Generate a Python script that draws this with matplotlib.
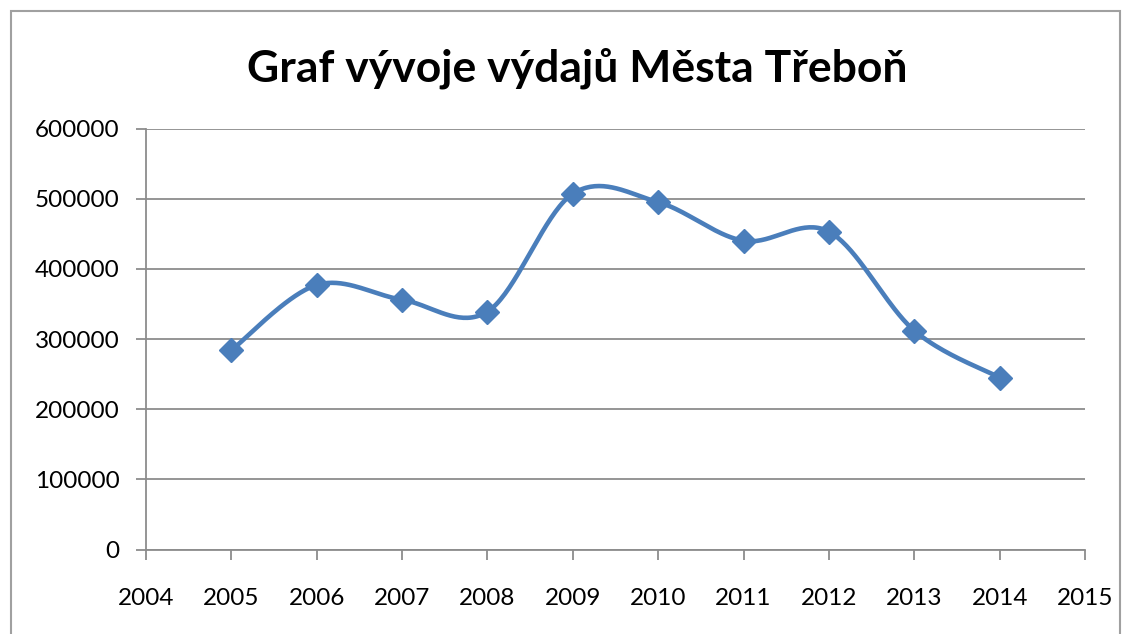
import numpy as np
import matplotlib.pyplot as plt
from matplotlib.patches import Rectangle

years = [2005, 2006, 2007, 2008, 2009, 2010, 2011, 2012, 2013, 2014]
vydaje = [284000, 377000, 356000, 339000, 507000, 495000, 440000, 453000, 312000, 245000]

title = 'Graf vývoje výdajů Města Třeboň'
x_ticks = list(range(2004, 2016))
y_ticks = [0, 100000, 200000, 300000, 400000, 500000, 600000]

blue = '#4A7EBB'
grid_gray = '#8C8C8C'


def smooth(xs, ys, n=40):
    # Excel-like smoothed line: cubic Bezier with Catmull-Rom control points
    xs = np.asarray(xs, float)
    ys = np.asarray(ys, float)
    px = np.concatenate([[xs[0]], xs, [xs[-1]]])
    py = np.concatenate([[ys[0]], ys, [ys[-1]]])
    out_x, out_y = [], []
    t = np.linspace(0, 1, n)
    for i in range(1, len(px) - 2):
        p0 = np.array([px[i], py[i]])
        p3 = np.array([px[i + 1], py[i + 1]])
        c1 = p0 + (np.array([px[i + 1], py[i + 1]]) - np.array([px[i - 1], py[i - 1]])) / 6
        c2 = p3 - (np.array([px[i + 2], py[i + 2]]) - np.array([px[i], py[i]])) / 6
        b = ((1 - t) ** 3)[:, None] * p0 + (3 * (1 - t) ** 2 * t)[:, None] * c1 \
            + (3 * (1 - t) * t ** 2)[:, None] * c2 + (t ** 3)[:, None] * p3
        out_x.extend(b[:, 0])
        out_y.extend(b[:, 1])
    return out_x, out_y


plt.rcParams['font.family'] = ['Lato', 'DejaVu Sans']

fig = plt.figure(figsize=(11.31, 6.34), dpi=100)
fig.patches.append(Rectangle((11 / 1131, -0.1), (1120 - 11) / 1131, 1.1 - 11 / 634,
                             transform=fig.transFigure, fill=False,
                             edgecolor='#A0A0A0', linewidth=1.5))

ax = fig.add_axes([146 / 1131, 1 - 549.5 / 634, (1085 - 146) / 1131, (549.5 - 128.5) / 634])

sx, sy = smooth(years, vydaje)
ax.plot(sx, sy, color=blue, linewidth=3.3, solid_capstyle='round', zorder=3)
ax.plot(years, vydaje, linestyle='none', marker='D', markersize=12,
        color=blue, zorder=4)

ax.set_xlim(2004, 2015)
ax.set_ylim(0, 600000)
ax.set_xticks(x_ticks)
ax.set_yticks(y_ticks)
ax.set_xticklabels([str(v) for v in x_ticks])
ax.set_yticklabels([str(v) for v in y_ticks])
ax.yaxis.grid(True, color=grid_gray, linewidth=1.3)
ax.set_axisbelow(True)

for s in ['top', 'right']:
    ax.spines[s].set_visible(False)
for s in ['left', 'bottom']:
    ax.spines[s].set_color(grid_gray)
    ax.spines[s].set_linewidth(1.3)

ax.tick_params(axis='both', colors=grid_gray, labelcolor='black', labelsize=17.5,
               width=1.3, length=7)
ax.tick_params(axis='x', pad=21)
ax.tick_params(axis='y', pad=12)

fig.text(577 / 1131, 1 - 68 / 634, title, ha='center', va='center',
         fontsize=32, fontweight='bold')

fig.savefig('out.png', dpi=100)
